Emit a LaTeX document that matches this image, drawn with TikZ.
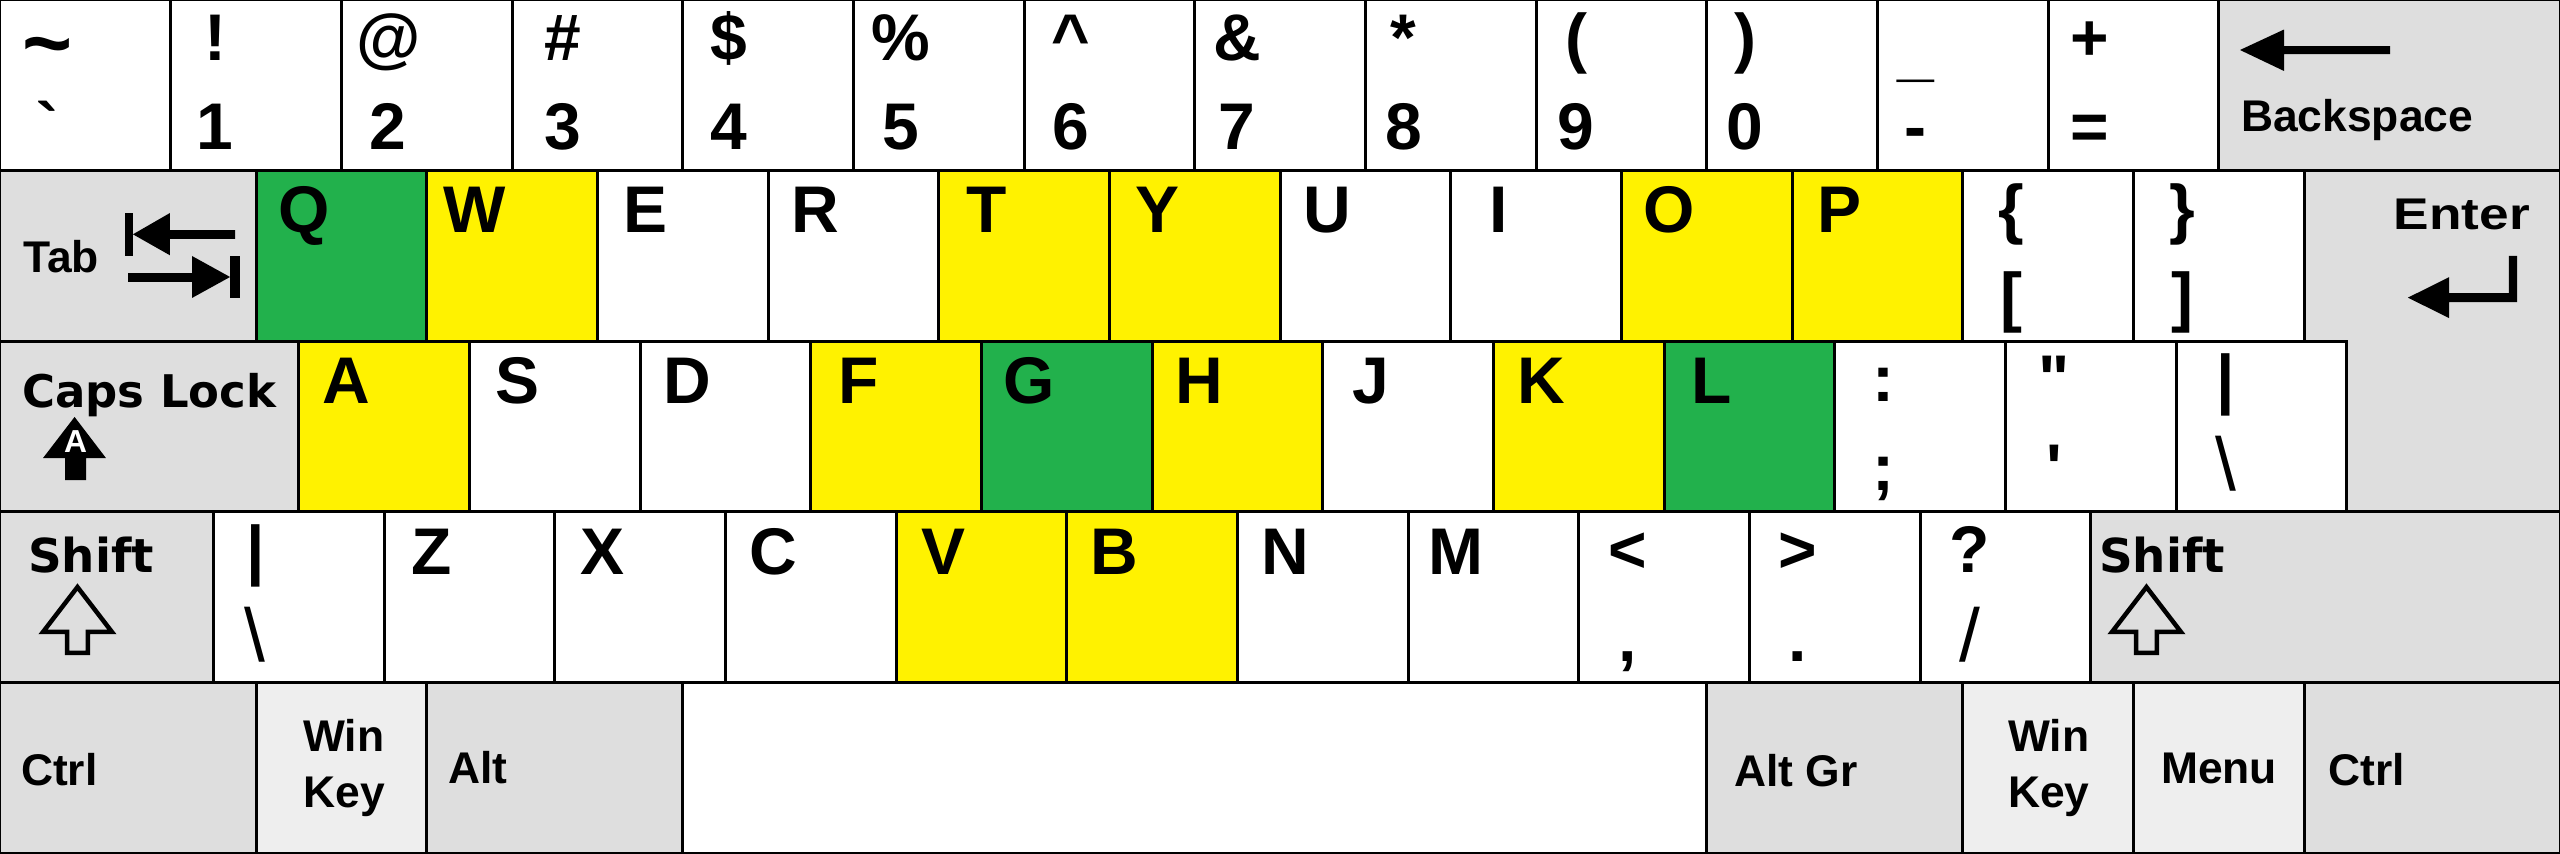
\documentclass[tikz,border=0pt]{standalone}
\usepackage{fontspec}
\usetikzlibrary{calc}
\newfontfamily\kfont{Liberation Sans}
\newfontfamily\dvfont{DejaVu Sans}
\definecolor{keygray}{HTML}{DEDEDE}
\definecolor{keylight}{HTML}{EEEEEE}
\definecolor{keygreen}{HTML}{22B14C}
\definecolor{keyyellow}{HTML}{FFF200}
\tikzset{
  keybox/.style={draw=black, line width=0.5pt, rectangle, inner sep=0pt, outer sep=0pt, anchor=north west, minimum height=1cm},
  glyph/.style={font=\kfont\bfseries\fontsize{11}{13}\selectfont, inner sep=0pt, anchor=base},
  modlabel/.style={font=\kfont\bfseries\fontsize{7.4}{9}\selectfont, inner sep=0pt, anchor=base west},
  capslabel/.style={font=\dvfont\bfseries\fontsize{7.5}{9}\selectfont, inner sep=0pt, anchor=base west},
  shiftlabel/.style={font=\dvfont\bfseries\fontsize{7.8}{9}\selectfont, inner sep=0pt, anchor=base west},
  iconfill/.style={fill=black, draw=none},
  iconline/.style={draw=black, line width=0.75pt, line join=miter, fill=none},
}
\newcommand\thinglyph[1]{{\mdseries\fontsize{12.5}{14}\selectfont #1}}
\newcommand\kkey[5]{\node[keybox, fill=#5, minimum width=#4cm] (#1) at (#2,#3) {};}
\newcommand\numkey[5]{%
  \kkey{#1}{#2}{0}{1}{white}
  \node[glyph] (#1t) at ($(#1.north west)+(#3,0.355)$) {#4};
  \node[glyph] (#1b) at ($(#1.north west)+(#3,0.875)$) {#5};}
\newcommand\symkey[6]{%
  \kkey{#1}{#2}{#3}{1}{white}
  \node[glyph] (#1t) at ($(#1.north west)+(#4,0.355)$) {#5};
  \node[glyph] (#1b) at ($(#1.north west)+(#4,0.875)$) {#6};}
\newcommand\letkey[5]{%
  \kkey{#1}{#2}{#3}{1}{#4}
  \node[glyph] (#1t) at ($(#1.north west)+(0.28,0.365)$) {#5};}
\begin{document}
\begin{tikzpicture}[x=1cm,y=-1cm]
\useasboundingbox (0,0) rectangle (15,5);
% ---------- row 0 ----------
\numkey{kgrave}{0}{0.28}{\raisebox{-0.07cm}{\scalebox{1.3}{\textasciitilde}}}{\textasciigrave}
\numkey{kone}{1}{0.26}{!}{1}
\numkey{ktwo}{2}{0.275}{@}{2}
\numkey{kthree}{3}{0.30}{\#}{3}
\numkey{kfour}{4}{0.27}{\$}{4}
\numkey{kfive}{5}{0.28}{\%}{5}
\numkey{ksix}{6}{0.275}{\textasciicircum}{6}
\numkey{kseven}{7}{0.25}{\&}{7}
\numkey{keight}{8}{0.225}{*}{8}
\numkey{knine}{9}{0.235}{(}{9}
\numkey{kzero}{10}{0.225}{)}{0}
\numkey{kminus}{11}{0.225}{\raisebox{-0.08cm}{\_}}{-}
\numkey{kequal}{12}{0.245}{+}{=}
\kkey{kback}{13}{0}{2}{keygray}
\fill[iconfill] (13.125,0.293) -- (13.383,0.173) -- (13.383,0.270) -- (14.004,0.270) -- (14.004,0.317) -- (13.383,0.317) -- (13.383,0.416) -- cycle;
\node[modlabel] (kbacktext) at ($(kback.north west)+(0.125,0.773)$) {Backspace};
% ---------- Enter (L shape) ----------
\coordinate (kenter) at (13.5,1);
\draw[fill=keygray, line width=0.5pt] (kenter) -- (15,1) -- (15,3) -- (13.75,3) -- (13.75,2) -- (13.5,2) -- cycle;
\node[modlabel, anchor=base east] (kentertext) at ($(kenter)+(1.33,0.342)$) {\scalebox{1.2}[1]{Enter}};
\fill[iconfill] (14.109,1.744) -- (14.35,1.624) -- (14.35,1.717) -- (14.701,1.717) -- (14.701,1.5) -- (14.748,1.5) -- (14.748,1.770) -- (14.35,1.770) -- (14.35,1.864) -- cycle;
% ---------- row 1 ----------
\kkey{ktab}{0}{1}{1.5}{keygray}
\node[modlabel] (ktabtext) at ($(ktab.north west)+(0.129,0.594)$) {Tab};
\fill[iconfill] (0.732,1.248) rectangle (0.779,1.5);
\fill[iconfill] (0.779,1.373) -- (0.996,1.248) -- (0.996,1.348) -- (1.377,1.348) -- (1.377,1.400) -- (0.996,1.400) -- (0.996,1.496) -- cycle;
\fill[iconfill] (0.75,1.600) -- (1.125,1.600) -- (1.125,1.5) -- (1.348,1.623) -- (1.125,1.746) -- (1.125,1.652) -- (0.75,1.652) -- cycle;
\fill[iconfill] (1.348,1.5) rectangle (1.406,1.746);
\letkey{kq}{1.5}{1}{keygreen}{Q}
\letkey{kw}{2.5}{1}{keyyellow}{W}
\letkey{ke}{3.5}{1}{white}{E}
\letkey{kr}{4.5}{1}{white}{R}
\letkey{kt}{5.5}{1}{keyyellow}{T}
\letkey{ky}{6.5}{1}{keyyellow}{Y}
\letkey{ku}{7.5}{1}{white}{U}
\letkey{ki}{8.5}{1}{white}{I}
\letkey{ko}{9.5}{1}{keyyellow}{O}
\letkey{kp}{10.5}{1}{keyyellow}{P}
\symkey{klbrack}{11.5}{1}{0.287}{\{}{[}
\symkey{krbrack}{12.5}{1}{0.287}{\}}{]}
% ---------- row 2 ----------
\kkey{kcaps}{0}{2}{1.75}{keygray}
\node[capslabel] (kcapstext) at ($(kcaps.north west)+(0.123,0.385)$) {Caps Lock};
\fill[iconfill] (0.437,2.443) -- (0.621,2.684) -- (0.504,2.684) -- (0.504,2.813) -- (0.381,2.813) -- (0.381,2.684) -- (0.252,2.684) -- cycle;
\node[font=\kfont\bfseries\fontsize{5.3}{6}\selectfont, text=white, inner sep=0pt, anchor=base] (kcapsA) at (0.443,2.654) {A};
\letkey{ka}{1.75}{2}{keyyellow}{A}
\letkey{ks}{2.75}{2}{white}{S}
\letkey{kd}{3.75}{2}{white}{D}
\letkey{kf}{4.75}{2}{keyyellow}{F}
\letkey{kg}{5.75}{2}{keygreen}{G}
\letkey{kh}{6.75}{2}{keyyellow}{H}
\letkey{kj}{7.75}{2}{white}{J}
\letkey{kk}{8.75}{2}{keyyellow}{K}
\letkey{kl}{9.75}{2}{keygreen}{L}
\symkey{ksemi}{10.75}{2}{0.287}{:}{;}
\symkey{kquote}{11.75}{2}{0.287}{\textquotedbl}{\textquotesingle}
\symkey{kbslash}{12.75}{2}{0.293}{|}{\thinglyph{\textbackslash}}
% ---------- row 3 ----------
\kkey{klshift}{0}{3}{1.25}{keygray}
\node[shiftlabel] (klshifttext) at ($(klshift.north west)+(0.158,0.352)$) {Shift};
\draw[iconline] (0.454,3.44) -- (0.656,3.703) -- (0.515,3.703) -- (0.515,3.826) -- (0.393,3.826) -- (0.393,3.703) -- (0.252,3.703) -- cycle;
\symkey{kpipe}{1.25}{3}{0.246}{|}{\thinglyph{\textbackslash}}
\letkey{kz}{2.25}{3}{white}{Z}
\letkey{kx}{3.25}{3}{white}{X}
\letkey{kc}{4.25}{3}{white}{C}
\letkey{kv}{5.25}{3}{keyyellow}{V}
\letkey{kb}{6.25}{3}{keyyellow}{B}
\letkey{kn}{7.25}{3}{white}{N}
\letkey{km}{8.25}{3}{white}{M}
\symkey{kcomma}{9.25}{3}{0.287}{<}{,}
\symkey{kperiod}{10.25}{3}{0.281}{>}{.}
\symkey{kslash}{11.25}{3}{0.293}{?}{\thinglyph{/}}
\kkey{krshift}{12.25}{3}{2.75}{keygray}
\node[shiftlabel] (krshifttext) at ($(krshift.north west)+(0.043,0.352)$) {Shift};
\draw[iconline] (12.577,3.44) -- (12.779,3.703) -- (12.638,3.703) -- (12.638,3.826) -- (12.516,3.826) -- (12.516,3.703) -- (12.375,3.703) -- cycle;
% ---------- row 4 ----------
\kkey{klctrl}{0}{4}{1.5}{keygray}
\node[modlabel] (klctrltext) at ($(klctrl.north west)+(0.117,0.6)$) {Ctrl};
\kkey{klwin}{1.5}{4}{1}{keylight}
\node[modlabel] (klwintext) at ($(klwin.north west)+(0.27,0.406)$) {Win};
\node[modlabel] (klwinkey) at ($(klwin.north west)+(0.27,0.729)$) {Key};
\kkey{klalt}{2.5}{4}{1.5}{keygray}
\node[modlabel] (klalttext) at ($(klalt.north west)+(0.119,0.588)$) {Alt};
\kkey{kspace}{4}{4}{6}{white}
\kkey{kaltgr}{10}{4}{1.5}{keygray}
\node[modlabel] (kaltgrtext) at ($(kaltgr.north west)+(0.154,0.611)$) {Alt Gr};
\kkey{krwin}{11.5}{4}{1}{keylight}
\node[modlabel] (krwintext) at ($(krwin.north west)+(0.26,0.406)$) {Win};
\node[modlabel] (krwinkey) at ($(krwin.north west)+(0.26,0.729)$) {Key};
\kkey{kmenu}{12.5}{4}{1}{keylight}
\node[modlabel] (kmenutext) at ($(kmenu.north west)+(0.156,0.588)$) {Menu};
\kkey{krctrl}{13.5}{4}{1.5}{keygray}
\node[modlabel] (krctrltext) at ($(krctrl.north west)+(0.135,0.6)$) {Ctrl};
\end{tikzpicture}
\end{document}
